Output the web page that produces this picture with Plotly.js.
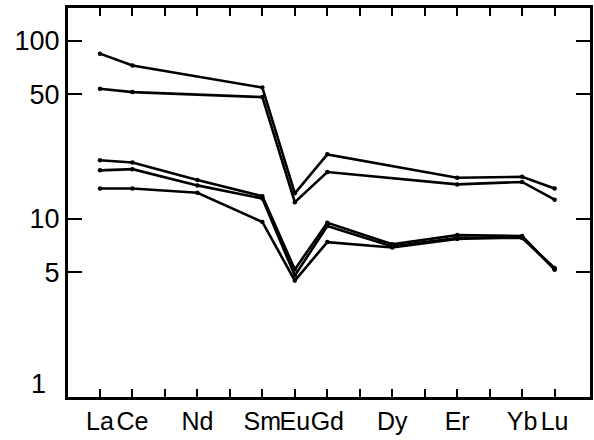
<!DOCTYPE html>
<html>
<head>
<meta charset="utf-8">
<script src="https://cdn.plot.ly/plotly-3.0.1.min.js"></script>
<style>html,body{margin:0;padding:0;background:#fff;}#chart{width:594px;height:440px;}</style>
</head>
<body>
<div id="chart"></div>
<script>
// REE elements (chondrite-normalized pattern)
var elements = ["La","Ce","Pr","Nd","Pm","Sm","Eu","Gd","Tb","Dy","Ho","Er","Tm","Yb","Lu"];
var elementLabels = ["La","Ce","","Nd","","Sm","Eu","Gd","","Dy","","Er","","Yb","Lu"];

var sampleA = [84.5, 72.5, null, null, null, 54.5, 13.9, 23.0, null, null, null, 17.0, null, 17.2, 14.8];
var sampleB = [53.7, 51.4, null, null, null, 48.2, 12.4, 18.3, null, null, null, 15.6, null, 16.1, 12.8];
var sampleC = [21.3, 20.7, null, 16.5, null, 13.4, 5.2, 9.5, null, 7.2, null, 8.1, null, 8.0, 5.2];
var sampleD = [18.7, 19.0, null, 15.4, null, 13.0, 4.8, 9.1, null, 7.0, null, 7.8, null, 7.8, 5.3];
var sampleE = [14.8, 14.8, null, 14.0, null, 9.6, 4.5, 7.4, null, 6.9, null, 7.7, null, 7.9, 5.2];

var yTickVals = [1, 5, 10, 50, 100];
var yTickText = ["", "5", "10", "50", "100"];

var xIdx = elements.map(function(_, i){ return i; });
var series = [sampleA, sampleB, sampleC, sampleD, sampleE];

var traces = series.map(function(s){
  return {
    x: xIdx, y: s, type: "scatter", mode: "lines+markers",
    connectgaps: true,
    line: {color: "#000", width: 2.6},
    marker: {color: "#000", size: 4.5},
    hoverinfo: "skip", showlegend: false
  };
});

var layout = {
  width: 594, height: 440,
  margin: {l: 68, r: 4, t: 8, b: 43},
  paper_bgcolor: "#fff", plot_bgcolor: "#fff",
  font: {family: "Liberation Sans, Arial, sans-serif", color: "#000", size: 26},
  xaxis: {
    range: [-0.985, 15.09],
    tickmode: "array", tickvals: xIdx, ticktext: elementLabels,
    tickangle: 0,
    ticks: "inside", ticklen: 8, tickwidth: 2, tickcolor: "#000",
    showline: true, linecolor: "#000", linewidth: 3, mirror: "ticks",
    showgrid: false, zeroline: false,
    tickfont: {size: 25}
  },
  yaxis: {
    type: "log", range: [0, 2.183],
    tickmode: "array", tickvals: yTickVals, ticktext: yTickText,
    ticks: "inside", ticklen: 14, tickwidth: 2, tickcolor: "#000",
    showline: true, linecolor: "#000", linewidth: 3, mirror: "ticks",
    showgrid: false, zeroline: false,
    tickfont: {size: 27}
  },
  annotations: [{
    text: "1", xref: "paper", yref: "paper", x: 0, y: 0,
    xanchor: "right", yanchor: "bottom", xshift: -20, yshift: -4,
    showarrow: false, font: {size: 27, color: "#000"}
  }]
};

Plotly.newPlot("chart", traces, layout, {displayModeBar: false, staticPlot: true});
</script>
</body>
</html>
